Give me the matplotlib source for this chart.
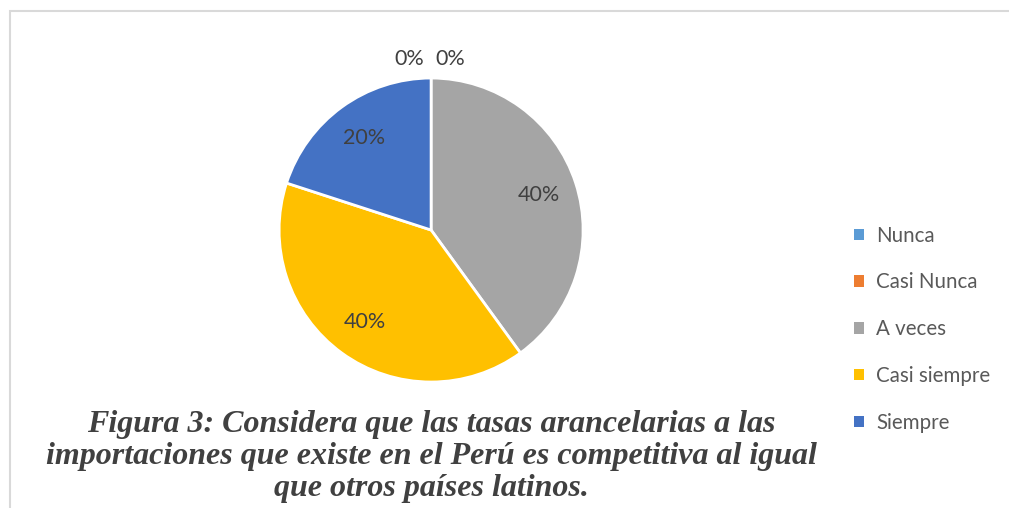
import matplotlib
matplotlib.use('Agg')
import matplotlib.pyplot as plt
from matplotlib.patches import Rectangle, Patch

# Data
categories = ['Nunca', 'Casi Nunca', 'A veces', 'Casi siempre', 'Siempre']
values = [0, 0, 40, 40, 20]
colors = ['#5B9BD5', '#ED7D31', '#A5A5A5', '#FFC000', '#4472C4']
title = ('Figura 3: Considera que las tasas arancelarias a las\n'
         'importaciones que existe en el Perú es competitiva al igual\n'
         'que otros países latinos.')

plt.rcParams['font.family'] = ['Lato', 'DejaVu Sans']

fig = plt.figure(figsize=(10.09, 5.08), dpi=100)

# chart area border
fig.patches.append(Rectangle((10 / 1009, -0.1), 1.2, 1.1 - 11 / 508,
                             transform=fig.transFigure, fill=False,
                             edgecolor='#d9d9d9', linewidth=1.5))

ax = fig.add_axes([0.2766, 0.248, 0.3013, 0.5984])
wedges, texts, autotexts = ax.pie(
    values, colors=colors, startangle=90, counterclock=False,
    autopct='%1.0f%%', pctdistance=0.745, radius=1,
    wedgeprops=dict(edgecolor='white', linewidth=2),
    textprops=dict(color='#404040', fontsize=15.5))

# zero-value labels sit above the pie, Excel style
zero_offsets = [-0.145, 0.125]
k = 0
for i, v in enumerate(values):
    if v == 0:
        autotexts[i].set_position((zero_offsets[k], 1.125))
        k += 1

ax.set_xlim(-1, 1)
ax.set_ylim(-1, 1)
ax.set_aspect('equal')
ax.axis('off')

handles = [Patch(facecolor=c, edgecolor='none') for c in colors]
fig.legend(handles, categories, loc='center left',
           bbox_to_anchor=(0.828, 0.352), frameon=False,
           fontsize=14.8, labelcolor='#595959',
           handlelength=0.47, handleheight=0.47, handletextpad=0.6,
           labelspacing=1.3)

fig.text(0.4272, 0.101, title, ha='center', va='center',
         fontsize=23, fontweight='bold', fontstyle='italic',
         family='Liberation Serif', color='#404040', linespacing=1.15)

fig.savefig('out.png', dpi=100)
